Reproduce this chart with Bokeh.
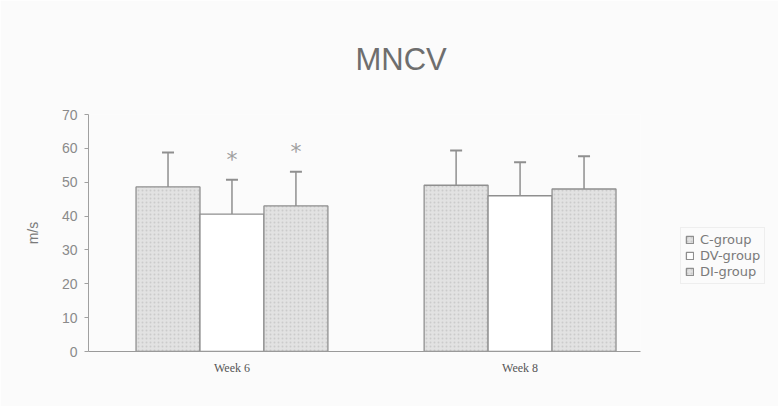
from bokeh.plotting import figure
from bokeh.models import (ColumnDataSource, Whisker, TeeHead, Legend, LegendItem,
                          FixedTicker, Range1d)
from bokeh.transform import dodge
from bokeh.core.properties import value
from bokeh.embed import file_html
from bokeh.resources import INLINE

# ---- data ----
chart_title = "MNCV"
weeks = ["Week 6", "Week 8"]
series = ["C-group", "DV-group", "DI-group"]
c_mean = [48.6, 49.1]
c_sd = [10.2, 10.3]
dv_mean = [40.6, 46.0]
dv_sd = [10.1, 9.9]
di_mean = [43.0, 48.0]
di_sd = [10.1, 9.7]
dv_sig = ["*", ""]
di_sig = ["*", ""]
y_ticks = [0, 10, 20, 30, 40, 50, 60, 70]

pos = list(range(len(weeks)))
src = ColumnDataSource(dict(
    pos=pos,
    c=c_mean, c_hi=[m + s for m, s in zip(c_mean, c_sd)],
    dv=dv_mean, dv_hi=[m + s for m, s in zip(dv_mean, dv_sd)],
    di=di_mean, di_hi=[m + s for m, s in zip(di_mean, di_sd)],
    dv_sig=dv_sig, di_sig=di_sig,
))

GREY = "#8f8f8f"
TXT = "#7a7a7a"
BG = "#fbfbfb"
BW = 0.222

p = figure(width=778, height=406, frame_width=552, frame_height=237, title=chart_title,
           output_backend="svg", toolbar_location=None,
           x_range=Range1d(-0.498, 1.418), y_range=Range1d(0, 70),
           min_border_left=88, min_border_right=138, min_border_top=114,
           min_border_bottom=55)
p.background_fill_color = BG
p.border_fill_color = BG
p.outline_line_color = None
p.grid.visible = False

p.title.align = "left"
p.title.offset = 267
p.title.standoff = 76
p.title.text_font = "Liberation Sans"
p.title.text_font_size = "31px"
p.title.text_font_style = "normal"
p.title.text_color = "#6e6e6e"

offs = [-BW, 0.0, BW]
cols = ["c", "dv", "di"]
fills = ["#e2e2e2", "#ffffff", "#e2e2e2"]
renderers = []
for off, col, fc in zip(offs, cols, fills):
    xs = dodge("pos", off, range=p.x_range)
    hatch = dict(hatch_pattern="dot", hatch_color="#cbcbcb", hatch_scale=4) if fc != "#ffffff" else {}
    r = p.vbar(x=xs, top=col, width=BW, bottom=0, source=src, fill_color=fc,
               line_color=GREY, line_width=1.3, **hatch)
    renderers.append(r)
    w = Whisker(base=xs, lower=col, upper=col + "_hi", source=src,
                line_color=GREY, line_width=1.5, lower_head=None,
                upper_head=TeeHead(size=12, line_color=GREY, line_width=2))
    p.add_layout(w)

for off, col in [(0.0, "dv"), (BW, "di")]:
    p.text(x=dodge("pos", off, range=p.x_range), y=col + "_hi", text=col + "_sig",
           source=src, text_align="center", text_baseline="middle", y_offset=-20,
           text_font=value("DejaVu Sans"), text_font_size="22px", text_color="#a0a0a0")

# axes
xa = p.below[0]
xa.ticker = FixedTicker(ticks=pos)
xa.major_label_overrides = {i: w for i, w in enumerate(weeks)}
xa.major_tick_line_color = None
xa.minor_tick_line_color = None
xa.major_tick_out = 0
xa.major_tick_in = 0
xa.axis_line_color = "#9a9a9a"
xa.major_label_text_font = "Liberation Serif"
xa.major_label_text_font_size = "12px"
xa.major_label_text_color = "#555555"
xa.major_label_standoff = 9

ya = p.left[0]
ya.ticker = FixedTicker(ticks=y_ticks)
ya.axis_label = "m/s"
ya.axis_label_text_font = "Liberation Sans"
ya.axis_label_text_font_size = "14px"
ya.axis_label_text_font_style = "normal"
ya.axis_label_text_color = TXT
ya.axis_label_standoff = 18
ya.major_label_text_font = "Liberation Sans"
ya.major_label_text_font_size = "14px"
ya.major_label_text_color = "#8a8a8a"
ya.major_label_standoff = 7
ya.axis_line_color = "#a0a0a0"
ya.major_tick_line_color = "#a0a0a0"
ya.major_tick_out = 4
ya.major_tick_in = 0
ya.minor_tick_line_color = None

legend = Legend(items=[LegendItem(label=s, renderers=[r]) for s, r in zip(series, renderers)],
                location=(40, 67), orientation="vertical")
legend.label_text_font = "DejaVu Sans"
legend.label_text_font_size = "13px"
legend.label_text_color = TXT
legend.glyph_width = 9
legend.glyph_height = 9
legend.label_height = 11
legend.label_standoff = 6
legend.spacing = 1
legend.padding = 4
legend.margin = 0
legend.border_line_color = "#e2e2e2"
legend.background_fill_color = BG
p.add_layout(legend, "right")

open("out.html", "w").write(file_html(p, INLINE))
